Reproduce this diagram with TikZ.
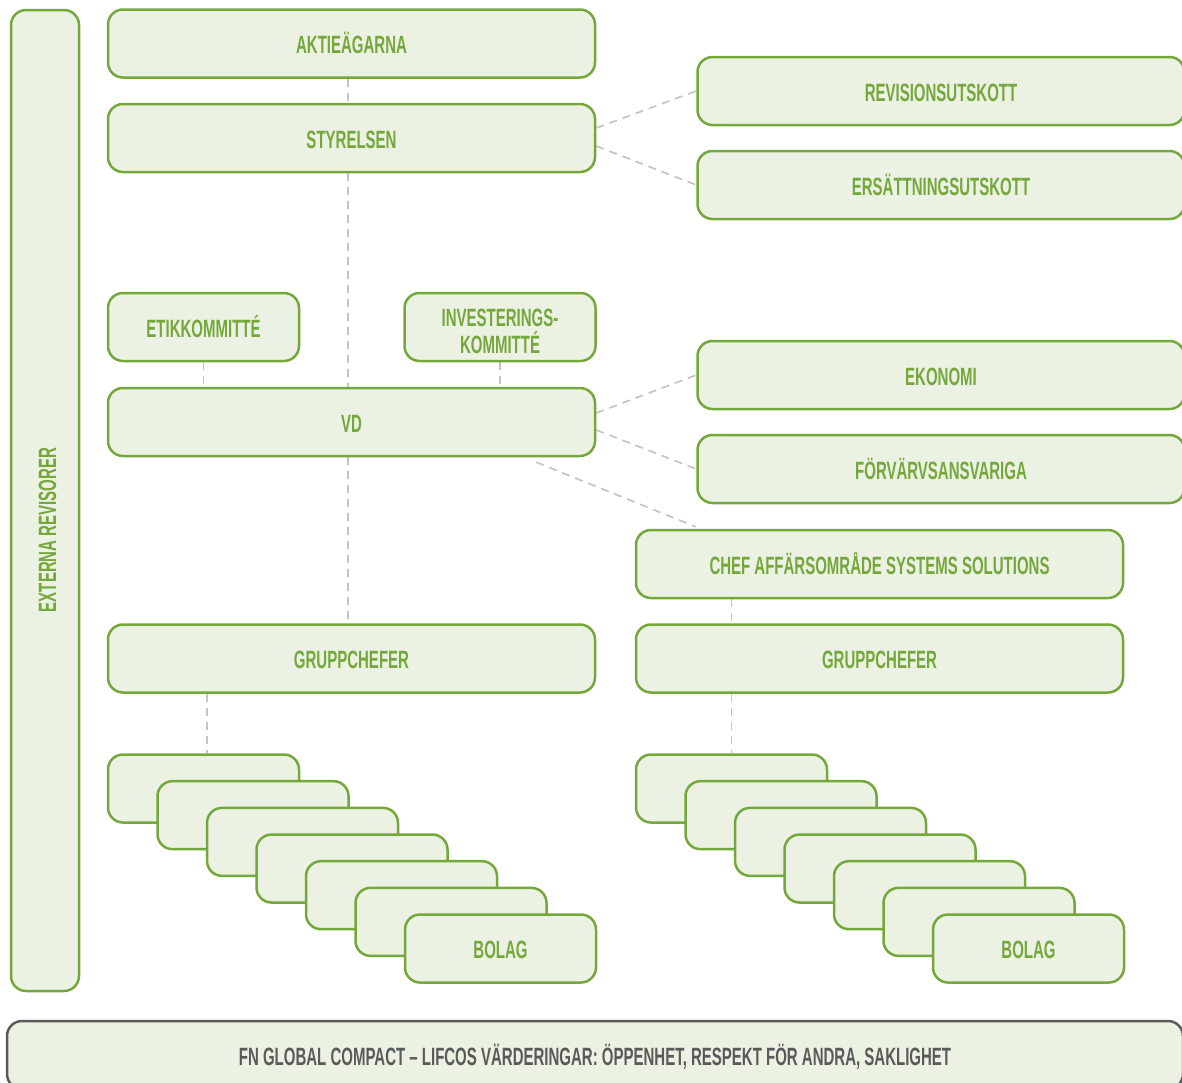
\documentclass[tikz,border=0pt]{standalone}
\usepackage{fontspec}
\newfontfamily\lfont[FakeStretch=0.6]{Liberation Sans}
\usetikzlibrary{calc,backgrounds}
\definecolor{lgreen}{HTML}{74A83A}
\definecolor{lfill}{HTML}{EBF1E3}
\definecolor{lgrey}{HTML}{C4C4C4}
\definecolor{dgrey}{HTML}{5A5A5A}
\begin{document}
\begin{tikzpicture}[x=1pt,y=-1pt,
  box/.style={draw=lgreen, fill=lfill, line width=2.5pt, rounded corners=15pt,
    inner sep=0pt, text=lgreen, font=\lfont\bfseries\fontsize{25}{27}\selectfont, align=center},
  captext/.style={text height=20pt, text depth=0pt},
  wide/.style={minimum width=487pt, minimum height=68pt},
  small/.style={minimum width=191pt, minimum height=68pt},
  conn/.style={draw=lgrey, line width=1.7pt, dash pattern=on 8pt off 6pt}]
\useasboundingbox (0,0) rectangle (1182,1082);
\clip (0,0) rectangle (1182,1082);

\node[box, minimum width=68pt, minimum height=981pt] (ext) at (45,500.5) {};
\node[text=lgreen, font=\lfont\bfseries\fontsize{25}{26}\selectfont, rotate=90, text height=18pt, text depth=0pt, inner sep=0pt] (extlabel) at (47,530) {EXTERNA REVISORER};

\node[box,wide,captext] (akt) at (351.5,43.5) {AKTIEÄGARNA};
\node[box,wide,captext] (sty) at (351.5,138) {STYRELSEN};
\node[box,wide,captext] (rev) at (941,91) {REVISIONSUTSKOTT};
\node[box,wide,captext] (ers) at (941,185) {ERSÄTTNINGSUTSKOTT};
\node[box,small,captext] (etik) at (203.5,327) {ETIKKOMMITTÉ};
\node[box,small,text height=53pt,text depth=0pt] (inv) at (500,327) {INVESTERINGS-\\KOMMITTÉ};
\node[box,wide,captext] (vd) at (351.5,422) {VD};
\node[box,wide,captext] (eko) at (941,375) {EKONOMI};
\node[box,wide,captext] (forv) at (941,469) {FÖRVÄRVSANSVARIGA};
\node[box,wide,captext] (chef) at (879.5,564) {CHEF AFFÄRSOMRÅDE SYSTEMS SOLUTIONS};
\node[box,wide,captext] (gcl) at (351.5,658.5) {GRUPPCHEFER};
\node[box,wide,captext] (gcr) at (879.5,658.5) {GRUPPCHEFER};

\foreach \i in {0,...,5}{
  \node[box,small,captext] (bL\i) at (203.5+49.5*\i, 788.5+26.67*\i) {};
  \node[box,small,captext] (bR\i) at (731.5+49.5*\i, 788.5+26.67*\i) {};
}
\node[box,small,captext] (bL6) at (500.5,948.5) {BOLAG};
\node[box,small,captext] (bR6) at (1028.5,948.5) {BOLAG};

\node[box, draw=dgrey, text=dgrey, minimum width=1176pt, minimum height=68pt, captext] (fn) at (595,1055)
  {FN GLOBAL COMPACT – LIFCOS VÄRDERINGAR: ÖPPENHET, RESPEKT FÖR ANDRA, SAKLIGHET};

\begin{scope}[on background layer]
\draw[conn] ([xshift=-3.5pt]akt.south) -- ([xshift=-3.5pt]sty.north);
\draw[conn] ([xshift=-3.5pt]sty.south) -- ([xshift=-3.5pt]vd.north);
\draw[conn] ([xshift=-3.5pt]vd.south) -- ([xshift=-3.5pt]gcl.north);
\draw[conn] ([yshift=10pt]sty.east) -- (rev.west);
\draw[conn] ([yshift=-8pt]sty.east) -- (ers.west);
\draw[conn] (etik.south) -- (etik.south |- vd.north);
\draw[conn] (inv.south) -- (inv.south |- vd.north);
\draw[conn] ([yshift=9pt]vd.east) -- (eko.west);
\draw[conn] ([yshift=-8pt]vd.east) -- (forv.west);
\draw[conn] ([xshift=-60pt,yshift=-5pt]vd.south east) -- ([xshift=61pt,yshift=2pt]chef.north west);
\draw[conn] (chef.south -| bR0.north) -- (gcr.north -| bR0.north);
\draw[conn] ([xshift=3.5pt]gcl.south -| bL0.north) -- ([xshift=3.5pt]bL0.north);
\draw[conn] (gcr.south -| bR0.north) -- (bR0.north);
\end{scope}
\end{tikzpicture}
\end{document}
